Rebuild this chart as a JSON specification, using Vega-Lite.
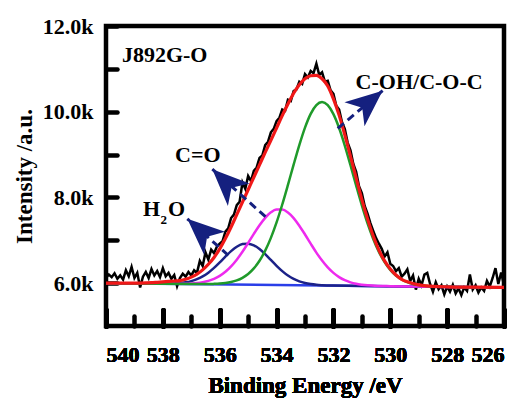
{
  "$schema": "https://vega.github.io/schema/vega-lite/v6.json",
  "width": 398,
  "height": 300,
  "autosize": {"type": "none"},
  "padding": {"left": 106, "top": 26, "right": 21, "bottom": 72},
  "background": "white",
  "config": {
    "font": "Liberation Serif, Times New Roman, serif",
    "view": {"stroke": "black", "strokeWidth": 4.5},
    "axis": {
      "domain": false,
      "grid": false,
      "tickColor": "black",
      "tickWidth": 4.5,
      "tickCap": "round",
      "labelColor": "black",
      "labelFont": "Liberation Serif, Times New Roman, serif",
      "labelFontWeight": "bold",
      "labelFontSize": 22,
      "titleColor": "black",
      "titleFont": "Liberation Serif, Times New Roman, serif",
      "titleFontWeight": "bold",
      "titleFontSize": 23
    }
  },
  "resolve": {"axis": {"x": "independent"}},
  "datasets": {
    "raw": [
      {"E":540.0,"V":6.12},{"E":539.9,"V":6.20},{"E":539.8,"V":6.14},{"E":539.7,"V":6.23},{"E":539.6,"V":6.10},
      {"E":539.5,"V":6.18},{"E":539.4,"V":6.08},{"E":539.3,"V":6.30},{"E":539.2,"V":6.16},{"E":539.1,"V":6.38},
      {"E":539.0,"V":6.12},{"E":538.9,"V":6.24},{"E":538.8,"V":5.90},{"E":538.7,"V":6.15},{"E":538.6,"V":6.26},
      {"E":538.5,"V":6.12},{"E":538.4,"V":6.33},{"E":538.3,"V":6.18},{"E":538.2,"V":6.28},{"E":538.1,"V":6.14},
      {"E":538.0,"V":6.35},{"E":537.9,"V":6.16},{"E":537.8,"V":6.24},{"E":537.7,"V":6.10},{"E":537.6,"V":6.19},
      {"E":537.5,"V":5.93},{"E":537.4,"V":6.12},{"E":537.3,"V":6.22},{"E":537.2,"V":6.15},{"E":537.1,"V":6.26},
      {"E":537.0,"V":6.18},{"E":536.9,"V":6.30},{"E":536.8,"V":6.24},{"E":536.7,"V":6.52},{"E":536.6,"V":6.40},
      {"E":536.5,"V":6.72},{"E":536.4,"V":6.55},{"E":536.3,"V":6.78},{"E":536.2,"V":6.70},{"E":536.1,"V":6.85},
      {"E":536.0,"V":6.92},{"E":535.9,"V":6.98},{"E":535.8,"V":7.20},{"E":535.7,"V":7.28},{"E":535.6,"V":7.52},
      {"E":535.5,"V":7.60},{"E":535.4,"V":7.82},{"E":535.3,"V":7.90},{"E":535.2,"V":8.35},{"E":535.1,"V":8.20},
      {"E":535.0,"V":8.50},{"E":534.9,"V":8.38},{"E":534.8,"V":8.62},{"E":534.7,"V":8.70},{"E":534.6,"V":8.92},
      {"E":534.5,"V":8.98},{"E":534.4,"V":9.22},{"E":534.3,"V":9.30},{"E":534.2,"V":9.52},{"E":534.1,"V":9.60},
      {"E":534.0,"V":9.78},{"E":533.9,"V":9.86},{"E":533.8,"V":10.05},{"E":533.7,"V":10.02},{"E":533.6,"V":10.28},
      {"E":533.5,"V":10.25},{"E":533.4,"V":10.48},{"E":533.3,"V":10.52},{"E":533.2,"V":10.70},{"E":533.1,"V":10.65},
      {"E":533.0,"V":10.88},{"E":532.9,"V":10.80},{"E":532.8,"V":10.95},{"E":532.7,"V":10.90},{"E":532.6,"V":11.12},
      {"E":532.5,"V":10.86},{"E":532.4,"V":10.92},{"E":532.3,"V":10.70},{"E":532.2,"V":10.72},{"E":532.1,"V":10.50},
      {"E":532.0,"V":10.42},{"E":531.9,"V":10.14},{"E":531.8,"V":10.05},{"E":531.7,"V":9.76},{"E":531.6,"V":9.60},
      {"E":531.5,"V":9.28},{"E":531.4,"V":9.10},{"E":531.3,"V":8.78},{"E":531.2,"V":8.60},{"E":531.1,"V":8.26},
      {"E":531.0,"V":8.10},{"E":530.9,"V":7.80},{"E":530.8,"V":7.62},{"E":530.7,"V":7.40},{"E":530.6,"V":7.22},
      {"E":530.5,"V":7.05},{"E":530.4,"V":6.92},{"E":530.3,"V":6.80},{"E":530.2,"V":6.62},{"E":530.1,"V":6.72},
      {"E":530.0,"V":6.45},{"E":529.9,"V":6.40},{"E":529.8,"V":6.28},{"E":529.7,"V":6.35},{"E":529.6,"V":6.15},
      {"E":529.5,"V":6.22},{"E":529.4,"V":6.32},{"E":529.3,"V":6.05},{"E":529.2,"V":6.18},{"E":529.1,"V":5.85},
      {"E":529.0,"V":6.10},{"E":528.9,"V":5.95},{"E":528.8,"V":6.20},{"E":528.7,"V":6.24},{"E":528.6,"V":5.98},
      {"E":528.5,"V":5.80},{"E":528.4,"V":6.02},{"E":528.3,"V":5.86},{"E":528.2,"V":5.95},{"E":528.1,"V":5.74},
      {"E":528.0,"V":5.92},{"E":527.9,"V":5.80},{"E":527.8,"V":5.96},{"E":527.7,"V":5.76},{"E":527.6,"V":5.88},
      {"E":527.5,"V":5.72},{"E":527.4,"V":5.90},{"E":527.3,"V":5.82},{"E":527.2,"V":6.20},{"E":527.1,"V":5.85},
      {"E":527.0,"V":5.95},{"E":526.9,"V":5.78},{"E":526.8,"V":5.90},{"E":526.7,"V":5.82},{"E":526.6,"V":6.05},
      {"E":526.5,"V":5.92},{"E":526.4,"V":6.12},{"E":526.3,"V":6.35},{"E":526.2,"V":5.98},{"E":526.1,"V":6.25},
      {"E":526.0,"V":5.95}
    ],
    "fit": [
      {"E":540.0,"V":6.00},{"E":539.5,"V":6.00},{"E":539.0,"V":6.00},{"E":538.6,"V":6.005},{"E":538.4,"V":6.01},
      {"E":538.2,"V":6.02},{"E":538.0,"V":6.03},{"E":537.8,"V":6.04},{"E":537.6,"V":6.05},{"E":537.4,"V":6.06},
      {"E":537.2,"V":6.09},{"E":537.0,"V":6.14},{"E":536.8,"V":6.21},{"E":536.6,"V":6.31},{"E":536.4,"V":6.44},
      {"E":536.2,"V":6.60},{"E":536.0,"V":6.80},{"E":535.8,"V":7.04},{"E":535.6,"V":7.31},{"E":535.4,"V":7.60},
      {"E":535.2,"V":7.89},{"E":535.0,"V":8.18},{"E":534.8,"V":8.47},{"E":534.6,"V":8.76},{"E":534.4,"V":9.05},
      {"E":534.2,"V":9.33},{"E":534.0,"V":9.62},{"E":533.8,"V":9.91},{"E":533.6,"V":10.18},{"E":533.4,"V":10.43},
      {"E":533.2,"V":10.63},{"E":533.0,"V":10.77},{"E":532.8,"V":10.84},{"E":532.6,"V":10.85},{"E":532.4,"V":10.77},
      {"E":532.2,"V":10.60},{"E":532.0,"V":10.30},{"E":531.8,"V":9.92},{"E":531.6,"V":9.46},{"E":531.4,"V":8.96},
      {"E":531.2,"V":8.45},{"E":531.0,"V":7.95},{"E":530.8,"V":7.50},{"E":530.6,"V":7.10},{"E":530.4,"V":6.77},
      {"E":530.2,"V":6.52},{"E":530.0,"V":6.33},{"E":529.8,"V":6.19},{"E":529.6,"V":6.09},{"E":529.4,"V":6.03},
      {"E":529.2,"V":5.99},{"E":529.0,"V":5.96},{"E":528.6,"V":5.93},{"E":528.0,"V":5.915},{"E":527.0,"V":5.907},
      {"E":526.0,"V":5.90}
    ],
    "base": [{"E":540.0,"V":6.00},{"E":526.0,"V":5.90}],
    "h2o": [
      {"E":540.0,"V":6.00},{"E":538.4,"V":5.988},{"E":538.0,"V":5.988},{"E":537.6,"V":5.994},{"E":537.2,"V":6.019},
      {"E":537.0,"V":6.048},{"E":536.8,"V":6.092},{"E":536.6,"V":6.157},{"E":536.4,"V":6.245},{"E":536.2,"V":6.356},
      {"E":536.0,"V":6.484},{"E":535.8,"V":6.620},{"E":535.6,"V":6.747},{"E":535.4,"V":6.849},{"E":535.2,"V":6.911},
      {"E":535.0,"V":6.922},{"E":534.8,"V":6.882},{"E":534.6,"V":6.795},{"E":534.4,"V":6.676},{"E":534.2,"V":6.541},
      {"E":534.0,"V":6.404},{"E":533.8,"V":6.281},{"E":533.6,"V":6.177},{"E":533.4,"V":6.098},{"E":533.2,"V":6.040},
      {"E":533.0,"V":6.002},{"E":532.8,"V":5.978},{"E":532.6,"V":5.962},{"E":532.4,"V":5.953},{"E":532.0,"V":5.944},
      {"E":526.0,"V":5.90}
    ],
    "co": [
      {"E":540.0,"V":6.00},{"E":538.4,"V":5.988},{"E":538.0,"V":5.986},{"E":537.6,"V":5.985},{"E":537.2,"V":5.988},
      {"E":537.0,"V":5.994},{"E":536.8,"V":6.005},{"E":536.6,"V":6.024},{"E":536.4,"V":6.054},{"E":536.2,"V":6.102},
      {"E":536.0,"V":6.171},{"E":535.8,"V":6.266},{"E":535.6,"V":6.392},{"E":535.4,"V":6.548},{"E":535.2,"V":6.732},
      {"E":535.0,"V":6.936},{"E":534.8,"V":7.149},{"E":534.6,"V":7.350},{"E":534.4,"V":7.524},{"E":534.2,"V":7.652},
      {"E":534.0,"V":7.718},{"E":533.8,"V":7.717},{"E":533.6,"V":7.647},{"E":533.4,"V":7.517},{"E":533.2,"V":7.340},
      {"E":533.0,"V":7.136},{"E":532.8,"V":6.921},{"E":532.6,"V":6.713},{"E":532.4,"V":6.527},{"E":532.2,"V":6.367},
      {"E":532.0,"V":6.239},{"E":531.8,"V":6.141},{"E":531.6,"V":6.069},{"E":531.4,"V":6.019},{"E":531.2,"V":5.985},
      {"E":531.0,"V":5.964},{"E":530.8,"V":5.949},{"E":530.4,"V":5.935},{"E":530.0,"V":5.930},{"E":526.0,"V":5.90}
    ],
    "coh": [
      {"E":540.0,"V":6.00},{"E":537.0,"V":5.980},{"E":536.6,"V":5.979},{"E":536.4,"V":5.979},{"E":536.2,"V":5.983},
      {"E":536.0,"V":5.990},{"E":535.8,"V":6.003},{"E":535.6,"V":6.027},{"E":535.4,"V":6.065},{"E":535.2,"V":6.125},
      {"E":535.0,"V":6.214},{"E":534.8,"V":6.344},{"E":534.6,"V":6.522},{"E":534.4,"V":6.758},{"E":534.2,"V":7.057},
      {"E":534.0,"V":7.417},{"E":533.8,"V":7.835},{"E":533.6,"V":8.292},{"E":533.4,"V":8.765},{"E":533.2,"V":9.222},
      {"E":533.0,"V":9.630},{"E":532.8,"V":9.951},{"E":532.6,"V":10.156},{"E":532.4,"V":10.226},{"E":532.2,"V":10.153},
      {"E":532.0,"V":9.945},{"E":531.8,"V":9.621},{"E":531.6,"V":9.211},{"E":531.4,"V":8.751},{"E":531.2,"V":8.275},
      {"E":531.0,"V":7.815},{"E":530.8,"V":7.394},{"E":530.6,"V":7.031},{"E":530.4,"V":6.729},{"E":530.2,"V":6.491},
      {"E":530.0,"V":6.310},{"E":529.8,"V":6.177},{"E":529.6,"V":6.085},{"E":529.4,"V":6.022},{"E":529.2,"V":5.981},
      {"E":529.0,"V":5.954},{"E":528.8,"V":5.939},{"E":528.6,"V":5.929},{"E":528.4,"V":5.922},{"E":528.0,"V":5.915},
      {"E":526.0,"V":5.90}
    ],
    "labels": [
      {"E":539.44,"V":11.32,"label":"J892G-O"},
      {"E":531.22,"V":10.69,"label":"C-OH/C-O-C"},
      {"E":537.57,"V":8.98,"label":"C=O"},
      {"E":538.70,"V":7.73,"label":"H"},
      {"E":537.82,"V":7.73,"label":"O"}
    ],
    "subs": [{"E":538.08,"V":7.47,"label":"2"}],
    "shafts": [
      {"E":531.85,"V":9.61,"E2":530.27,"V2":10.49},
      {"E":534.39,"V":7.55,"E2":536.26,"V2":8.66},
      {"E":535.70,"V":6.65,"E2":537.14,"V2":7.50}
    ],
    "heads": [
      {"E":530.27,"V":10.49,"dir":50},
      {"E":536.26,"V":8.66,"dir":314},
      {"E":537.14,"V":7.50,"dir":312}
    ]
  },
  "encoding": {
    "x": {
      "field": "E",
      "type": "quantitative",
      "scale": {"domain": [526, 540], "reverse": true, "nice": false, "zero": false},
      "axis": {
        "orient": "bottom",
        "title": "Binding Energy /eV",
        "values": [540,538,536,534,532,530,528,526],
        "tickSize": -16,
        "labelPadding": 34,
        "titlePadding": 9
      }
    },
    "y": {
      "field": "V",
      "type": "quantitative",
      "scale": {"domain": [5, 12], "nice": false, "zero": false},
      "axis": {
        "title": "Intensity /a.u.",
        "values": [6,7,8,9,10,11,12],
        "tickSize": -11,
        "labelExpr": "datum.value % 2 === 0 ? format(datum.value, '.1f') + 'k' : ''",
        "labelPadding": 24,
        "titlePadding": 6
      }
    }
  },
  "layer": [
    {"data": {"name": "raw"}, "mark": {"type": "line", "color": "#000000", "strokeWidth": 2.5}},
    {"data": {"name": "base"}, "mark": {"type": "line", "color": "#2a3ee8", "strokeWidth": 2.5},
     "encoding": {"x": {"field": "E", "type": "quantitative",
       "axis": {"orient": "bottom", "values": [539,537,535,533,531,529,527], "tickSize": -10, "labels": false, "title": null}}}},
    {"data": {"name": "h2o"}, "mark": {"type": "line", "color": "#1c2288", "strokeWidth": 2.5, "interpolate": "monotone"}},
    {"data": {"name": "co"}, "mark": {"type": "line", "color": "#ee2aee", "strokeWidth": 2.5, "interpolate": "monotone"}},
    {"data": {"name": "coh"}, "mark": {"type": "line", "color": "#1f9a2a", "strokeWidth": 2.5, "interpolate": "monotone"}},
    {"data": {"name": "fit"}, "mark": {"type": "line", "color": "#f01818", "strokeWidth": 3.2, "interpolate": "monotone"}},
    {"data": {"name": "shafts"}, "mark": {"type": "rule", "color": "#15207f", "strokeWidth": 3, "strokeDash": [8, 5]},
     "encoding": {"x2": {"field": "E2"}, "y2": {"field": "V2"}}},
    {"data": {"name": "heads"}, "mark": {"type": "point", "shape": "M0,0L0.85,2L0,1.45L-0.85,2Z", "filled": true, "color": "#15207f", "opacity": 1, "size": 1350},
     "encoding": {"angle": {"field": "dir", "type": "quantitative", "scale": null}}},
    {"data": {"name": "labels"}, "mark": {"type": "text", "align": "left", "baseline": "middle", "font": "Liberation Serif, Times New Roman, serif", "fontWeight": "bold", "fontSize": 22, "color": "black"},
     "encoding": {"text": {"field": "label"}}},
    {"data": {"name": "subs"}, "mark": {"type": "text", "align": "left", "baseline": "middle", "font": "Liberation Serif, Times New Roman, serif", "fontWeight": "bold", "fontSize": 13, "color": "black"},
     "encoding": {"text": {"field": "label"}}}
  ]
}
